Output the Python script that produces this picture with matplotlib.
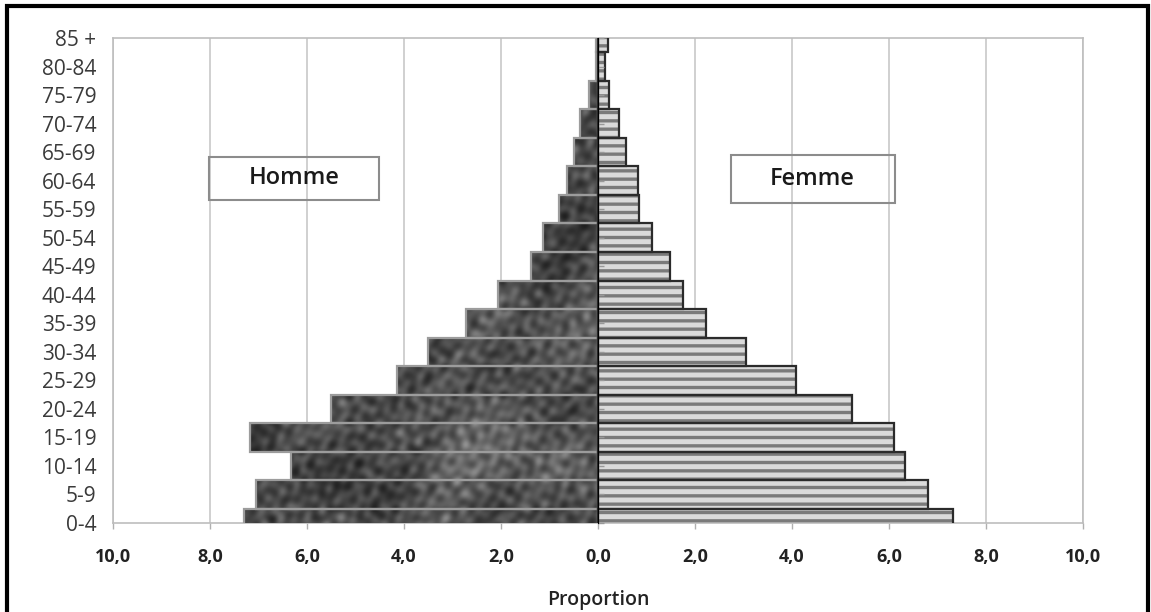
import numpy as np
import matplotlib
matplotlib.use("Agg")
import matplotlib.pyplot as plt
from matplotlib.path import Path
from matplotlib.patches import PathPatch, Rectangle
from matplotlib.ticker import FuncFormatter

# age groups, bottom to top
ages = ["0-4", "5-9", "10-14", "15-19", "20-24", "25-29", "30-34", "35-39",
        "40-44", "45-49", "50-54", "55-59", "60-64", "65-69", "70-74",
        "75-79", "80-84", "85 +"]
homme = [7.30, 7.05, 6.34, 7.18, 5.51, 4.15, 3.51, 2.73, 2.06, 1.39, 1.13,
         0.80, 0.64, 0.50, 0.38, 0.19, 0.04, 0.05]
femme = [7.32, 6.80, 6.34, 6.10, 5.24, 4.08, 3.05, 2.22, 1.76, 1.48, 1.12,
         0.85, 0.82, 0.58, 0.43, 0.23, 0.15, 0.20]
xticks = [-10, -8, -6, -4, -2, 0, 2, 4, 6, 8, 10]

FONT = ["Open Sans", "DejaVu Sans"]
plt.rcParams["font.family"] = FONT
plt.rcParams["hatch.linewidth"] = 2.4

fig = plt.figure(figsize=(11.51, 6.12), dpi=100)
ax = fig.add_axes([113/1151, 1-523/612, 970/1151, 485/612])

y = np.arange(len(ages))

# male bars: dark granite-like texture clipped to the bars
bars_h = ax.barh(y, -np.array(homme), height=1.0, facecolor="none",
                 edgecolor="#9c9c9c", linewidth=1.6, zorder=4)
ny, nx = 490, 490
yy, xx = np.mgrid[0:ny, 0:nx].astype(float)
# low-frequency blotches
tex = np.zeros_like(xx)
for a, b, c, d, e in [(0.031, 0.017, 2.1, 0.011, -0.023), (-0.019, 0.043, 1.7, 0.027, 0.009),
                      (0.067, -0.052, 1.3, -0.041, 0.033), (0.013, 0.006, 2.5, 0.004, 0.008)]:
    tex += 0.6*np.sin(a*xx + b*yy + c*np.sin(d*xx + e*yy))
# grainy mid-frequency speckle from many directions
for k, f in enumerate([0.31, 0.43, 0.37, 0.52, 0.29, 0.47, 0.35, 0.58, 0.41]):
    ang = k*np.pi/9 + 0.2
    u = np.cos(ang)*xx + np.sin(ang)*yy
    v = -np.sin(ang)*xx + np.cos(ang)*yy
    tex += 0.45*np.sin(f*u + 1.8*np.sin(0.05*v + k))
tex = (tex - tex.min()) / (tex.max() - tex.min())
tex = 0.12 + 0.45*tex**1.3
im = ax.imshow(tex, cmap="gray", vmin=0, vmax=1, extent=[-10, 0, -0.5, 17.5],
               aspect="auto", interpolation="bilinear", zorder=3, origin="lower")
paths = [b.get_path().transformed(b.get_patch_transform()) for b in bars_h]
clip = PathPatch(Path.make_compound_path(*paths), transform=ax.transData)
im.set_clip_path(clip)

# female bars: horizontal stripes with dark outline
ax.barh(y, femme, height=1.0, facecolor="#dadada", edgecolor="#7a7a7a",
        hatch="--", linewidth=0, zorder=3)
ax.barh(y, femme, height=1.0, facecolor="none", edgecolor="#2b2b2b",
        linewidth=1.6, zorder=4)

ax.set_xlim(-10, 10)
ax.set_ylim(0, 17)
ax.set_xticks(xticks)
ax.xaxis.set_major_formatter(FuncFormatter(lambda v, p: f"{abs(v):.1f}".replace(".", ",")))
ax.set_yticks(y)
ax.set_yticklabels(ages)
ax.tick_params(axis="y", length=0, pad=12, labelsize=15, labelcolor="#3a3a3a")
ax.tick_params(axis="x", length=4, width=1, color="#b0b0b0", pad=14,
               labelsize=13, labelcolor="#222222")
for lab in ax.get_xticklabels():
    lab.set_fontweight("bold")
ax.grid(axis="x", color="#c8c8c8", linewidth=1.2, zorder=0)
ax.set_axisbelow(True)
for s in ax.spines.values():
    s.set_color("#bdbdbd")
    s.set_linewidth(1.2)

# central category axis with small tick marks
sec = ax.secondary_yaxis(0.5)
sec.set_yticks(y)
sec.set_yticklabels([])
sec.tick_params(length=4, color="#999999", width=1)
sec.spines["left"].set_color("#999999")
sec.set_zorder(5)

ax.set_xlabel("Proportion", fontsize=14, fontweight="semibold", labelpad=17,
              color="#222222")

# series boxes
for x0, w, y0, h, name, tx in [(0.099, 0.175, 0.666, 0.089, "Homme", 0.187),
                               (0.637, 0.169, 0.660, 0.099, "Femme", 0.721)]:
    ax.add_patch(Rectangle((x0, y0), w, h, transform=ax.transAxes, fill=False,
                           edgecolor="#8c8c8c", linewidth=1.5, zorder=6))
    ax.text(tx, y0 + h/2, name, transform=ax.transAxes, ha="center", va="center",
            fontsize=17, fontweight="semibold", color="#1a1a1a", zorder=6)

# outer frame
fig.add_artist(Rectangle((7/1151, -0.02), 1141/1151, 1.02 - 6/612,
                         transform=fig.transFigure, fill=False,
                         edgecolor="black", linewidth=3))

fig.savefig("out.png", dpi=100)
